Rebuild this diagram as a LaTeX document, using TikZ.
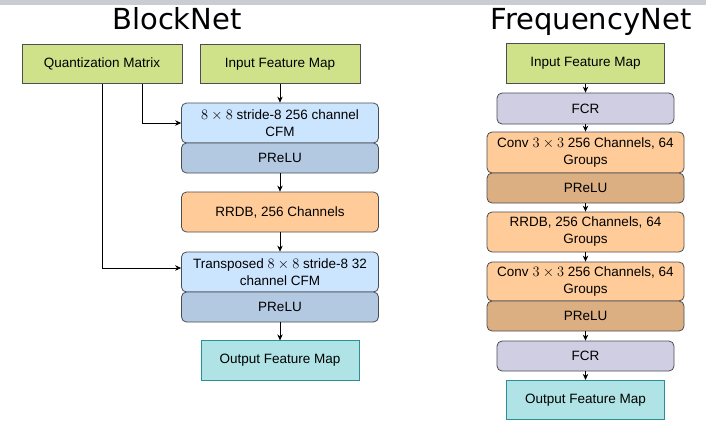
\documentclass[tikz,border=0pt]{standalone}
\usepackage{fontspec}
\setmainfont{Liberation Sans}
\newfontfamily\titlefont{DejaVu Sans}
\usepackage{tikz}
\usetikzlibrary{positioning,arrows.meta}
\usepackage{xcolor}
\definecolor{topbar}{HTML}{C9CDD1}
\definecolor{edge}{HTML}{4A4D52}
\definecolor{limegreen}{HTML}{CFE28A}
\definecolor{cfmblue}{HTML}{CCE5FF}
\definecolor{prelublue}{HTML}{B3C8E1}
\definecolor{rrdborange}{HTML}{FFCC99}
\definecolor{prelubrown}{HTML}{DCAF82}
\definecolor{fcrlilac}{HTML}{D0CEE2}
\definecolor{outteal}{HTML}{B0E3E6}
\definecolor{outedge}{HTML}{2A8F96}

\begin{document}
\begin{tikzpicture}[x=1pt,y=-1pt,>={Stealth[length=6pt,width=5.5pt]},line width=0.8pt,
  every node/.style={font=\fontsize{13.5}{17}\selectfont,align=center,inner sep=1pt},
  plain/.style={draw=edge,fill=limegreen,minimum width=158pt,minimum height=39.5pt},
  layer/.style={draw=edge,rounded corners=5pt,minimum width=197pt,minimum height=#1},
  layer/.default=40pt,
  title/.style={font=\titlefont\fontsize{29}{34}\selectfont,anchor=base}]
\useasboundingbox (0,0) rectangle (706,421);
\fill[topbar] (0,0) rectangle (706,5);

% BlockNet
\node[title] (tblock) at (177,29.5) {BlockNet};
\node[plain,minimum width=160pt] (qm) at (102,64) {Quantization Matrix};
\node[plain,minimum width=160pt] (inB) at (280,64) {Input Feature Map};
\node[layer,fill=cfmblue] (cfmB) at (280,123) {$8\times8$ stride-8 256 channel\\CFM};
\node[layer=30pt,fill=prelublue] (preluB) at (280,158) {PReLU};
\node[layer,fill=rrdborange] (rrdbB) at (280,212) {RRDB, 256 Channels};
\node[layer,fill=cfmblue] (tcfmB) at (280,272) {Transposed $8\times8$ stride-8 32\\channel CFM};
\node[layer=30pt,fill=prelublue] (prelu2B) at (280,307) {PReLU};
\node[plain,fill=outteal,draw=outedge] (outB) at (280,360.5) {Output Feature Map};

\draw[->] (inB) -- (cfmB);
\draw[->] ([xshift=-40pt]qm.south east) |- (cfmB);
\draw[->] (qm) |- ([yshift=4pt]tcfmB.west);
\draw[->] (preluB) -- (rrdbB);
\draw[->] (rrdbB) -- (tcfmB);
\draw[->] (prelu2B) -- (outB);

% FrequencyNet
\node[title] (tfreq) at (591,29.5) {FrequencyNet};
\node[plain] (inF) at (585.5,63.5) {Input Feature Map};
\node[layer=31pt,minimum width=177pt,fill=fcrlilac] (fcrF) at (585.5,108.5) {FCR};
\node[layer=41pt,fill=rrdborange] (convF) at (585.5,152.5) {Conv $3\times3$ 256 Channels, 64\\Groups};
\node[layer=30pt,fill=prelubrown] (preluF) at (585.5,188) {PReLU};
\node[layer,fill=rrdborange] (rrdbF) at (585.5,232) {RRDB, 256 Channels, 64\\Groups};
\node[layer=39pt,fill=rrdborange] (conv2F) at (585.5,281.5) {Conv $3\times3$ 256 Channels, 64\\Groups};
\node[layer=30pt,fill=prelubrown] (prelu2F) at (585.5,316) {PReLU};
\node[layer=30pt,minimum width=177pt,fill=fcrlilac] (fcr2F) at (585.5,356) {FCR};
\node[plain,fill=outteal,draw=outedge] (outF) at (585.5,400) {Output Feature Map};

\draw[->] (inF) -- (fcrF);
\draw[->] (fcrF) -- (convF);
\draw[->] (preluF) -- (rrdbF);
\draw[->] (rrdbF) -- (conv2F);
\draw[->] (prelu2F) -- (fcr2F);
\draw[->] (fcr2F) -- (outF);
\end{tikzpicture}
\end{document}
